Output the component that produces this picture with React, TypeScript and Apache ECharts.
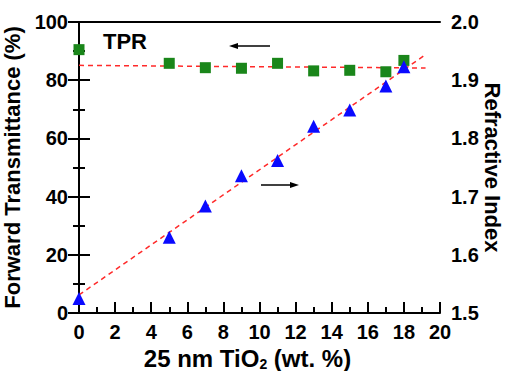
import React, { useEffect, useRef } from "react";
import * as echarts from "echarts";

const wtPercent = [0, 5, 7, 9, 11, 13, 15, 17, 18];
const transmittance = [90.5, 85.8, 84.3, 84.1, 85.8, 83.2, 83.4, 82.9, 86.8];
const refractiveIndex = [1.525, 1.63, 1.684, 1.736, 1.762, 1.821, 1.849, 1.89, 1.923];
const transFitX = [0, 19.2];
const transFitY = [85.1, 84.2];
const riFitX = [0, 19.2];
const riFitY = [1.531, 1.944];

const FONT = "Liberation Sans, Arial, Helvetica, sans-serif";

export default function App() {
  const ref = useRef<HTMLDivElement>(null);
  useEffect(() => {
    if (!ref.current) return;
    const chart = echarts.init(ref.current, undefined, { renderer: "svg" });
    const axisLine = { show: true, lineStyle: { color: "#000", width: 2 } };
    const labelStyle = { color: "#000", fontSize: 20, fontWeight: "bold" as const, fontFamily: FONT };
    chart.setOption({
      animation: false,
      backgroundColor: "#fff",
      grid: { left: 79, right: 65, top: 22, bottom: 58, containLabel: false, outerBoundsMode: "none" },
      xAxis: [
        {
          type: "value",
          min: 0,
          max: 20,
          interval: 2,
          position: "bottom",
          axisLine,
          axisTick: { show: true, inside: true, length: 11, lineStyle: { color: "#000", width: 2 } },
          minorTick: { show: true, splitNumber: 2, length: 6, lineStyle: { color: "#000", width: 2 } },
          splitLine: { show: false },
          axisLabel: { ...labelStyle, margin: 9 },
          name: "25 nm TiO{sub|2} (wt. %)",
          nameLocation: "middle",
          nameGap: 25,
          nameTextStyle: {
            color: "#000",
            fontSize: 24,
            fontWeight: "bold",
            fontFamily: FONT,
            padding: [0, 24, 0, 0],
            rich: {
              sub: { fontSize: 14, fontWeight: "bold", fontFamily: FONT, color: "#000", padding: [10, 0, 0, 0] },
            },
          },
        },
        {
          type: "value",
          min: 0,
          max: 20,
          position: "top",
          axisLine,
          axisTick: { show: false },
          axisLabel: { show: false },
          splitLine: { show: false },
        },
      ],
      yAxis: [
        {
          type: "value",
          min: 0,
          max: 100,
          interval: 20,
          position: "left",
          axisLine,
          axisTick: { show: true, inside: true, length: 11, lineStyle: { color: "#000", width: 2 } },
          minorTick: { show: true, splitNumber: 2, length: 6, lineStyle: { color: "#000", width: 2 } },
          splitLine: { show: false },
          axisLabel: { ...labelStyle, margin: 11 },
          name: "Forward Transmittance (%)",
          nameLocation: "middle",
          nameRotate: 90,
          nameGap: 48,
          nameTextStyle: { color: "#000", fontSize: 22, fontWeight: "bold", fontFamily: FONT },
        },
        {
          type: "value",
          min: 1.5,
          max: 2.0,
          interval: 0.1,
          position: "right",
          axisLine,
          axisTick: { show: true, inside: true, length: 11, lineStyle: { color: "#000", width: 2 } },
          minorTick: { show: true, splitNumber: 2, length: 6, lineStyle: { color: "#000", width: 2 } },
          splitLine: { show: false },
          axisLabel: { ...labelStyle, margin: 11, formatter: (v: number) => v.toFixed(1) },
          name: "Refractive Index",
          nameLocation: "middle",
          nameRotate: -90,
          nameGap: 41,
          nameMoveOverlap: false,
          nameTextStyle: { color: "#000", fontSize: 22, fontWeight: "bold", fontFamily: FONT },
        },
      ],
      series: [
        {
          type: "line",
          xAxisIndex: 0,
          yAxisIndex: 0,
          data: transFitX.map((x, i) => [x, transFitY[i]]),
          symbol: "none",
          lineStyle: { color: "#ff2a2a", width: 1.5, type: [5, 4] },
          z: 1,
        },
        {
          type: "line",
          xAxisIndex: 0,
          yAxisIndex: 1,
          data: riFitX.map((x, i) => [x, riFitY[i]]),
          symbol: "none",
          lineStyle: { color: "#ff2a2a", width: 1.5, type: [5, 4] },
          z: 1,
        },
        {
          type: "scatter",
          xAxisIndex: 0,
          yAxisIndex: 0,
          data: wtPercent.map((x, i) => [x, transmittance[i]]),
          symbol: "rect",
          symbolSize: 11,
          itemStyle: { color: "#1a861a", opacity: 1 },
          z: 3,
        },
        {
          type: "scatter",
          xAxisIndex: 0,
          yAxisIndex: 1,
          data: wtPercent.map((x, i) => [x, refractiveIndex[i]]),
          symbol: "triangle",
          symbolSize: 13,
          itemStyle: { color: "#0a0aff", opacity: 1 },
          z: 3,
        },
      ],
      graphic: [
        {
          type: "text",
          left: 103,
          top: 30,
          style: { text: "TPR", fill: "#000", font: `bold 22px ${FONT}` },
        },
        {
          type: "line",
          shape: { x1: 236, y1: 46, x2: 270, y2: 46 },
          style: { stroke: "#000", lineWidth: 1.5 },
        },
        {
          type: "polygon",
          shape: { points: [[229, 46], [238, 43], [238, 49]] },
          style: { fill: "#000" },
        },
        {
          type: "line",
          shape: { x1: 261, y1: 185, x2: 292, y2: 185 },
          style: { stroke: "#000", lineWidth: 1.5 },
        },
        {
          type: "polygon",
          shape: { points: [[299, 185], [290, 182], [290, 188]] },
          style: { fill: "#000" },
        },
      ],
    });
    return () => chart.dispose();
  }, []);
  return (
    <div
      ref={ref}
      style={{ position: "absolute", left: 0, top: 0, width: 505, height: 371 }}
    />
  );
}
